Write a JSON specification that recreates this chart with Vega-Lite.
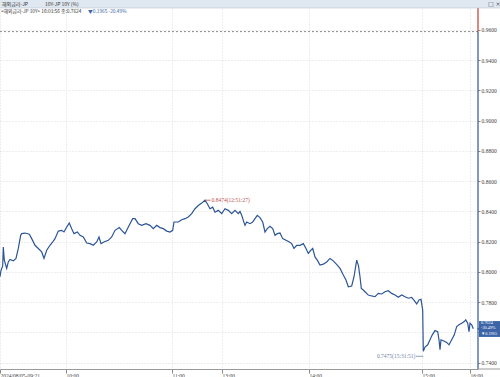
{
  "$schema": "https://vega.github.io/schema/vega-lite/v6.json",
  "width": 478,
  "height": 369,
  "autosize": {"type": "none"},
  "padding": {"left": 0, "top": 0, "right": 22, "bottom": 8},
  "background": "white",
  "config": {
    "view": {"stroke": null},
    "text": {"font": "Liberation Sans Narrow"},
    "axis": {"labelOverlap": false, "labelFlush": false}
  },
  "layer": [
    {
      "data": {"values": [
        {"pos":0,"yield":0.7968},{"pos":1,"yield":0.801},{"pos":2.7,"yield":0.804},{"pos":3.3,"yield":0.8165},{"pos":4.3,"yield":0.8078},
        {"pos":6.7,"yield":0.8023},{"pos":8.3,"yield":0.8066},{"pos":10,"yield":0.8082},{"pos":13.3,"yield":0.8073},{"pos":16,"yield":0.8089},
        {"pos":18.3,"yield":0.8155},{"pos":20.7,"yield":0.8242},{"pos":21.7,"yield":0.8253},{"pos":25,"yield":0.8257},{"pos":29.3,"yield":0.8249},
        {"pos":31.7,"yield":0.822},{"pos":35,"yield":0.8176},{"pos":38.3,"yield":0.8155},{"pos":41.7,"yield":0.8132},{"pos":44,"yield":0.8089},
        {"pos":46.7,"yield":0.8143},{"pos":50,"yield":0.8176},{"pos":52.7,"yield":0.8198},{"pos":55,"yield":0.822},{"pos":58.3,"yield":0.827},
        {"pos":61.7,"yield":0.8275},{"pos":64,"yield":0.8264},{"pos":66.7,"yield":0.8297},{"pos":69.3,"yield":0.8323},{"pos":71.7,"yield":0.8286},
        {"pos":74,"yield":0.8253},{"pos":77.3,"yield":0.8264},{"pos":80,"yield":0.8242},{"pos":83.3,"yield":0.8231},{"pos":86.7,"yield":0.8191},
        {"pos":90,"yield":0.8187},{"pos":93.3,"yield":0.8176},{"pos":96.7,"yield":0.8198},{"pos":99,"yield":0.8231},{"pos":101,"yield":0.8187},
        {"pos":104,"yield":0.8198},{"pos":108.3,"yield":0.8209},{"pos":111.7,"yield":0.8231},{"pos":115,"yield":0.8275},{"pos":119.3,"yield":0.8293},
        {"pos":121.7,"yield":0.8275},{"pos":123.3,"yield":0.8264},{"pos":125,"yield":0.8253},{"pos":126.7,"yield":0.8275},{"pos":130,"yield":0.8319},
        {"pos":132.7,"yield":0.8352},{"pos":135,"yield":0.8352},{"pos":138.3,"yield":0.8319},{"pos":141.7,"yield":0.8308},{"pos":146,"yield":0.8319},
        {"pos":150,"yield":0.8308},{"pos":153.3,"yield":0.8286},{"pos":156.7,"yield":0.8308},{"pos":160,"yield":0.8293},{"pos":163.3,"yield":0.8286},
        {"pos":166.7,"yield":0.827},{"pos":170,"yield":0.8264},{"pos":172.7,"yield":0.8275},{"pos":174,"yield":0.833},{"pos":178.3,"yield":0.833},
        {"pos":181.7,"yield":0.8345},{"pos":185,"yield":0.8352},{"pos":188.3,"yield":0.8363},{"pos":191.7,"yield":0.8385},{"pos":195,"yield":0.8418},
        {"pos":198.3,"yield":0.8439},{"pos":201.7,"yield":0.8455},{"pos":205,"yield":0.8474},{"pos":207.3,"yield":0.8451},{"pos":210,"yield":0.8418},
        {"pos":212.7,"yield":0.8428},{"pos":215,"yield":0.8395},{"pos":218.3,"yield":0.8407},{"pos":221.7,"yield":0.8385},{"pos":225,"yield":0.8418},
        {"pos":228.3,"yield":0.8407},{"pos":231.7,"yield":0.8385},{"pos":235,"yield":0.8407},{"pos":238.3,"yield":0.8385},{"pos":240,"yield":0.84},
        {"pos":241.7,"yield":0.8375},{"pos":243.3,"yield":0.8341},{"pos":245,"yield":0.8308},{"pos":246.7,"yield":0.833},{"pos":250,"yield":0.8319},
        {"pos":252.7,"yield":0.833},{"pos":255,"yield":0.8352},{"pos":257.3,"yield":0.8374},{"pos":260,"yield":0.8359},{"pos":262.7,"yield":0.833},
        {"pos":265,"yield":0.8264},{"pos":267.3,"yield":0.8286},{"pos":270,"yield":0.8301},{"pos":272.7,"yield":0.8286},{"pos":275,"yield":0.8242},
        {"pos":277.3,"yield":0.8253},{"pos":280,"yield":0.8257},{"pos":282.7,"yield":0.822},{"pos":286,"yield":0.8209},{"pos":289.3,"yield":0.8198},
        {"pos":291.7,"yield":0.8187},{"pos":294,"yield":0.8155},{"pos":296.7,"yield":0.8176},{"pos":300,"yield":0.8176},{"pos":303.3,"yield":0.8187},
        {"pos":306,"yield":0.8155},{"pos":308.3,"yield":0.8122},{"pos":310.7,"yield":0.8143},{"pos":312.7,"yield":0.8155},{"pos":315,"yield":0.8099},
        {"pos":317.3,"yield":0.8078},{"pos":320,"yield":0.8045},{"pos":323.3,"yield":0.8051},{"pos":326.7,"yield":0.8066},{"pos":330,"yield":0.8089},
        {"pos":333.3,"yield":0.8073},{"pos":337.3,"yield":0.8045},{"pos":340,"yield":0.8023},{"pos":343.3,"yield":0.7979},{"pos":346,"yield":0.7946},
        {"pos":348.3,"yield":0.7902},{"pos":351.7,"yield":0.7907},{"pos":354,"yield":0.7968},{"pos":356.7,"yield":0.8078},{"pos":358.5,"yield":0.804},
        {"pos":360,"yield":0.7968},{"pos":361.3,"yield":0.7891},{"pos":363.3,"yield":0.788},{"pos":365,"yield":0.7869},{"pos":368.3,"yield":0.7847},
        {"pos":371.7,"yield":0.7841},{"pos":375,"yield":0.7836},{"pos":378.3,"yield":0.7858},{"pos":381.7,"yield":0.7854},{"pos":385,"yield":0.7869},
        {"pos":388.3,"yield":0.7876},{"pos":391.7,"yield":0.7858},{"pos":395,"yield":0.7847},{"pos":398.3,"yield":0.7832},{"pos":401.7,"yield":0.7847},
        {"pos":405,"yield":0.7836},{"pos":408.3,"yield":0.7826},{"pos":411.7,"yield":0.7832},{"pos":414.3,"yield":0.781},{"pos":416.7,"yield":0.7788},
        {"pos":419,"yield":0.7814},{"pos":421,"yield":0.7819},{"pos":422.7,"yield":0.7747},{"pos":423.3,"yield":0.7475},{"pos":425,"yield":0.7503},
        {"pos":427.7,"yield":0.7518},{"pos":430,"yield":0.7551},{"pos":432.3,"yield":0.7584},{"pos":435,"yield":0.7612},{"pos":437.7,"yield":0.7605},
        {"pos":439,"yield":0.7551},{"pos":440,"yield":0.7486},{"pos":441,"yield":0.7551},{"pos":443.3,"yield":0.7545},{"pos":446.7,"yield":0.7534},
        {"pos":449,"yield":0.7518},{"pos":451.7,"yield":0.7551},{"pos":454.3,"yield":0.7584},{"pos":456.7,"yield":0.7639},{"pos":459,"yield":0.765},
        {"pos":461.7,"yield":0.7661},{"pos":464.3,"yield":0.7672},{"pos":465.7,"yield":0.7683},{"pos":467.7,"yield":0.7661},{"pos":469,"yield":0.7605},
        {"pos":470,"yield":0.7661},{"pos":471.7,"yield":0.765},{"pos":473.3,"yield":0.7624}
      ]},
      "mark": {"type": "line", "color": "#2c5596", "strokeWidth": 1.2},
      "encoding": {
        "x": {
          "field": "pos", "type": "quantitative",
          "scale": {"domain": [0, 478], "nice": false, "zero": false},
          "axis": {
            "title": null,
            "values": [0, 66, 172, 222, 309, 422, 470],
            "tickCount": 20,
            "labelExpr": "datum.value == 0 ? '2024/08/05-09:21' : datum.value == 66 ? '10:00' : datum.value == 172 ? '11:00' : datum.value == 222 ? '13:00' : datum.value == 309 ? '14:00' : datum.value == 422 ? '15:00' : '16:00'",
            "labelAlign": "left", "labelBaseline": "top", "labelPadding": 0, "labelFontSize": 5.5, "labelColor": "#444",
            "labelFont": "Liberation Sans Narrow", "labelFlush": false, "labelOverlap": false,
            "tickSize": 4, "tickColor": "#888", "domainColor": "#9a9a9a",
            "grid": true, "gridColor": "#dcdcdc", "gridDash": [1, 2]
          }
        },
        "y": {
          "field": "yield", "type": "quantitative",
          "scale": {"domain": [0.7358, 0.9798], "nice": false, "zero": false},
          "axis": {
            "title": null, "orient": "right",
            "values": [0.74, 0.76, 0.78, 0.8, 0.82, 0.84, 0.86, 0.88, 0.9, 0.92, 0.94, 0.96],
            "tickCount": 20,
            "format": ".4f", "labelFontSize": 5.5, "labelColor": "#444", "labelFont": "Liberation Sans Narrow",
            "labelOverlap": false, "labelFlush": false,
            "labelPadding": 1, "tickSize": 2, "tickColor": "#888", "domain": false,
            "grid": true, "gridColor": "#dcdcdc", "gridDash": [1, 2]
          }
        }
      }
    },
    {
      "data": {"values": [{}]},
      "mark": {"type": "rule", "color": "#8c8c8c", "strokeDash": [2, 2], "strokeWidth": 1},
      "encoding": {
        "x": {"datum": 0, "type": "quantitative"},
        "x2": {"datum": 478},
        "y": {"datum": 0.9589, "type": "quantitative"}
      }
    },
    {
      "data": {"values": [{}]},
      "mark": {"type": "rule", "color": "#c0392b", "strokeWidth": 1.2},
      "encoding": {
        "x": {"datum": 478, "type": "quantitative"},
        "y": {"datum": 0.9589, "type": "quantitative"},
        "y2": {"datum": 0.9745}
      }
    },
    {
      "data": {"values": [{}]},
      "mark": {"type": "rule", "color": "#2c5596", "strokeWidth": 1.2},
      "encoding": {
        "x": {"datum": 478, "type": "quantitative"},
        "y": {"datum": 0.7358, "type": "quantitative"},
        "y2": {"datum": 0.9589}
      }
    },
    {
      "data": {"values": [{}]},
      "mark": {"type": "rule", "color": "#9a9a9a", "strokeWidth": 1},
      "encoding": {
        "x": {"datum": 478, "type": "quantitative"},
        "x2": {"datum": 500},
        "y": {"datum": 0.7358, "type": "quantitative"}
      }
    },
    {
      "data": {"values": [{"pos": 205, "yield": 0.8474, "label": "0.8474(12:51:27)"}]},
      "mark": {"type": "rule", "color": "#c0504d", "strokeWidth": 0.8},
      "encoding": {"x": {"field": "pos", "type": "quantitative"}, "x2": {"datum": 210.5}, "y": {"field": "yield", "type": "quantitative"}}
    },
    {
      "data": {"values": [{"pos": 205, "yield": 0.8474, "label": "0.8474(12:51:27)"}]},
      "mark": {"type": "text", "color": "#c0504d", "align": "left", "baseline": "middle", "fontSize": 5.5, "dx": 6.5},
      "encoding": {"x": {"field": "pos", "type": "quantitative"}, "y": {"field": "yield", "type": "quantitative"}, "text": {"field": "label", "type": "nominal"}}
    },
    {
      "data": {"values": [{"pos": 423.3, "yield": 0.7475, "label": "0.7475(15:31:51)"}]},
      "mark": {"type": "rule", "color": "#6f84a8", "strokeWidth": 0.8, "yOffset": 5},
      "encoding": {"x": {"field": "pos", "type": "quantitative"}, "x2": {"datum": 416}, "y": {"field": "yield", "type": "quantitative"}}
    },
    {
      "data": {"values": [{"pos": 423.3, "yield": 0.7475, "label": "0.7475(15:31:51)"}]},
      "mark": {"type": "text", "color": "#6f84a8", "align": "right", "baseline": "middle", "fontSize": 5.5, "dx": -8, "dy": 5},
      "encoding": {"x": {"field": "pos", "type": "quantitative"}, "y": {"field": "yield", "type": "quantitative"}, "text": {"field": "label", "type": "nominal"}}
    },
    {
      "data": {"values": [{}]},
      "mark": {"type": "rect", "fill": "#3c64a6"},
      "encoding": {
        "x": {"datum": 479, "type": "quantitative"},
        "x2": {"datum": 500},
        "y": {"datum": 0.7675, "type": "quantitative"},
        "y2": {"datum": 0.757}
      }
    },
    {
      "data": {"values": [{}]},
      "mark": {"type": "point", "shape": "triangle-left", "filled": true, "color": "#3c64a6", "size": 14, "opacity": 1},
      "encoding": {
        "x": {"datum": 478.5, "type": "quantitative"},
        "y": {"datum": 0.7624, "type": "quantitative"}
      }
    },
    {
      "data": {"values": [
        {"line": "0.7624", "yield": 0.7662},
        {"line": "-20.49%", "yield": 0.7627},
        {"line": "▼0.1965", "yield": 0.7592}
      ]},
      "mark": {"type": "text", "color": "white", "align": "left", "baseline": "middle", "fontSize": 4.3},
      "encoding": {
        "x": {"datum": 481, "type": "quantitative"},
        "y": {"field": "yield", "type": "quantitative"},
        "text": {"field": "line", "type": "nominal"}
      }
    },
    {
      "data": {"values": [{}]},
      "mark": {"type": "rect", "fill": "#dfe7f0", "stroke": "#b9c7d6", "strokeWidth": 0.6},
      "encoding": {
        "x": {"datum": -1, "type": "quantitative"},
        "x2": {"datum": 501},
        "y": {"datum": 0.9802, "type": "quantitative"},
        "y2": {"datum": 0.9745}
      }
    },
    {
      "data": {"values": [{}]},
      "mark": {"type": "text", "text": "해외금리-JP", "font": "Noto Sans CJK KR", "fontSize": 5, "color": "#333", "align": "left", "baseline": "middle"},
      "encoding": {"x": {"datum": 2, "type": "quantitative"}, "y": {"datum": 0.9773, "type": "quantitative"}}
    },
    {
      "data": {"values": [{}]},
      "mark": {"type": "text", "text": "10Y-JP 10Y (%)", "font": "Noto Sans CJK KR", "fontSize": 5, "color": "#333", "align": "left", "baseline": "middle"},
      "encoding": {"x": {"datum": 45, "type": "quantitative"}, "y": {"datum": 0.9773, "type": "quantitative"}}
    },
    {
      "data": {"values": [{}]},
      "mark": {"type": "text", "text": "□ ×", "font": "DejaVu Sans", "fontSize": 6, "color": "#555", "align": "left", "baseline": "middle"},
      "encoding": {"x": {"datum": 488, "type": "quantitative"}, "y": {"datum": 0.9773, "type": "quantitative"}}
    },
    {
      "data": {"values": [{}]},
      "mark": {"type": "text", "text": "<해외금리-JP 10Y> 16:03:56 종:0.7624", "font": "Noto Sans CJK KR", "fontSize": 4.8, "color": "#333", "align": "left", "baseline": "middle"},
      "encoding": {"x": {"datum": 1, "type": "quantitative"}, "y": {"datum": 0.9721, "type": "quantitative"}}
    },
    {
      "data": {"values": [{}]},
      "mark": {"type": "text", "text": "▼0.1965  -20.49%", "font": "Noto Sans CJK KR", "fontSize": 4.8, "color": "#3c64a6", "align": "left", "baseline": "middle"},
      "encoding": {"x": {"datum": 88, "type": "quantitative"}, "y": {"datum": 0.9721, "type": "quantitative"}}
    }
  ]
}
